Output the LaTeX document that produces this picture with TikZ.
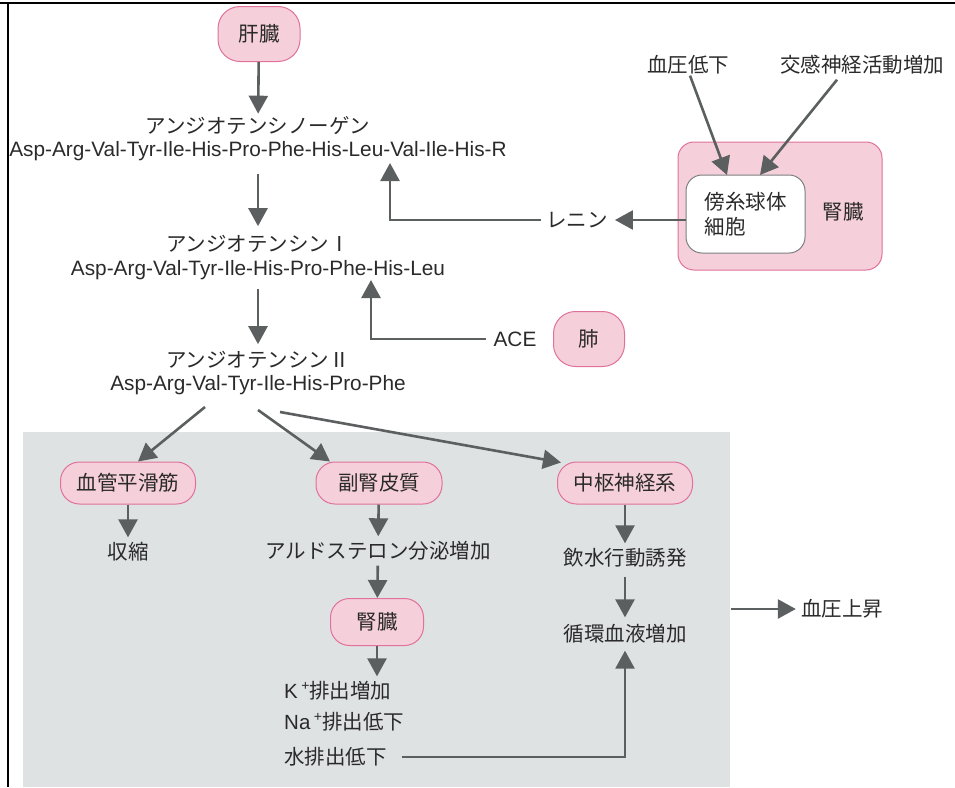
\documentclass[tikz,border=0pt]{standalone}
\usepackage{fontspec}
\setmainfont{Noto Sans CJK JP}
\newfontfamily\lat{Liberation Sans}
\usetikzlibrary{arrows.meta}
\definecolor{arr}{HTML}{5B5F60}
\definecolor{pinkf}{HTML}{F5CFDA}
\definecolor{pinkd}{HTML}{E0719A}
\definecolor{bgg}{HTML}{DFE2E3}
\definecolor{txt}{HTML}{2A2A2A}
\newcommand{\supplus}{\raisebox{0.42em}{\fontsize{14}{14}\selectfont\lat +}}
\begin{document}
\begin{tikzpicture}[x=1pt,y=-1pt,
  every node/.style={text=txt, inner sep=1pt},
  jt/.style={font=\fontsize{20.5}{24.5}\selectfont},
  lt/.style={font=\lat\fontsize{20.8}{24}\selectfont},
  organ/.style={jt, draw=pinkd, fill=pinkf, line width=1pt, rounded corners=19pt, inner xsep=0pt, minimum height=42pt},
  arw/.style={draw=arr, line width=2.6pt, -{Triangle[length=18pt,width=19pt]}},
  ln/.style={draw=arr, line width=2.6pt}
]
\useasboundingbox (0,0) rectangle (955,787);
% background and frame
\fill[bgg] (23,432) rectangle (730,787);
\draw[black, line width=2.5pt] (0,3) -- (955,3);
\draw[black, line width=2pt] (8,3) -- (8,787);

% main chain
\node[organ, minimum width=82pt, minimum height=55pt, rounded corners=22pt] (liver) at (259,34) {肝臓};
\node[jt] (agn) at (258,126) {アンジオテンシノーゲン};
\node[lt] (agnseq) at (258,151) {Asp-Arg-Val-Tyr-Ile-His-Pro-Phe-His-Leu-Val-Ile-His-R};
\node[jt] (a1) at (258,244) {アンジオテンシンⅠ};
\node[lt] (a1seq) at (258,270) {Asp-Arg-Val-Tyr-Ile-His-Pro-Phe-His-Leu};
\node[jt] (a2) at (258,360) {アンジオテンシンⅡ};
\node[lt] (a2seq) at (258,385) {Asp-Arg-Val-Tyr-Ile-His-Pro-Phe};

\draw[arw, shorten >=2pt] (liver) -- (agn);
\draw[arw, shorten <=12pt, shorten >=8pt] (agnseq) -- (a1);
\draw[arw, shorten <=8pt, shorten >=6pt] (a1seq) -- (a2);

% kidney / renin
\node[draw=pinkd, fill=pinkf, line width=1pt, rounded corners=16pt, minimum width=204pt, minimum height=128pt] (kid) at (780,206) {};
\node[draw=arr!80, fill=white, line width=1pt, rounded corners=16pt, minimum width=119pt, minimum height=78pt, jt, align=left] (jg) at (745.5,214) {傍糸球体\\細胞};
\node[jt] (kidlab) at (843,212) {腎臓};
\node[jt] (bp) at (688,65) {血圧低下};
\node[jt] (sym) at (862,65) {交感神経活動増加};
\coordinate (jgin1) at (727,175);
\coordinate (jgin2) at (760,175);
\draw[arw] ([xshift=2pt]bp.south) -- (jgin1);
\draw[arw] ([xshift=-25pt,yshift=-4pt]sym.south) -- (jgin2);
\node[jt] (renin) at (577,220) {レニン};
\draw[arw, shorten >=6pt] (jg.west |- renin) -- (renin.east);
\coordinate (rtip) at (390,163);
\draw[arw, shorten <=4pt] (renin.west) -| (rtip);

% ACE / lung
\node[lt] (ace) at (515,339) {ACE};
\node[organ, minimum width=71pt, minimum height=55pt, rounded corners=22pt] (lung) at (589,339) {肺};
\coordinate (acetip) at (371,280);
\draw[arw, shorten <=6pt] (ace.west) -| (acetip);

% lower section
\node[organ, minimum width=135pt] (vsm) at (128,483) {血管平滑筋};
\node[organ, minimum width=126pt] (adr) at (379,483) {副腎皮質};
\node[organ, minimum width=135pt] (cns) at (625,483) {中枢神経系};
\coordinate (s1) at (205,407);
\coordinate (s2) at (258,410);
\coordinate (s3) at (280,412);
\draw[arw] (s1) -- ([xshift=10pt]vsm.north);
\draw[arw] (s2) -- ([xshift=-49pt]adr.north);
\draw[arw] (s3) -- ([xshift=-64pt,yshift=-1pt]cns.north);

\node[jt] (contr) at (128,552) {収縮};
\draw[arw, shorten >=4pt] (vsm) -- (contr);
\node[jt] (ald) at (378,551) {アルドステロン分泌増加};
\draw[arw, shorten >=4pt] (adr) -- (ald);
\node[organ, minimum width=93pt, minimum height=47pt] (kid2) at (377,622) {腎臓};
\draw[arw, shorten <=4pt] (ald) -- (kid2);
\node[jt, anchor=west] (kp) at (283,691) {{\lat K\,}\supplus 排出増加};
\node[jt, anchor=west] (nap) at (283,722) {{\lat Na\,}\supplus 排出低下};
\node[jt, anchor=west] (water) at (283,757) {水排出低下};
\draw[arw, shorten >=4pt] (kid2) -- (kid2 |- kp.north);

\node[jt] (drink) at (625,558) {飲水行動誘発};
\draw[arw, shorten >=4pt] (cns) -- (drink);
\node[jt] (circ) at (625,634) {循環血液増加};
\draw[arw, shorten <=8pt, shorten >=6pt] (drink) -- (circ);
\draw[arw, shorten <=14pt, shorten >=6pt] (water.east) -| (circ.south);

\node[jt] (bpup) at (842,609) {血圧上昇};
\coordinate (bpu0) at (731,609);
\draw[arw, shorten >=4pt] (bpu0) -- (bpup.west);
\end{tikzpicture}
\end{document}
